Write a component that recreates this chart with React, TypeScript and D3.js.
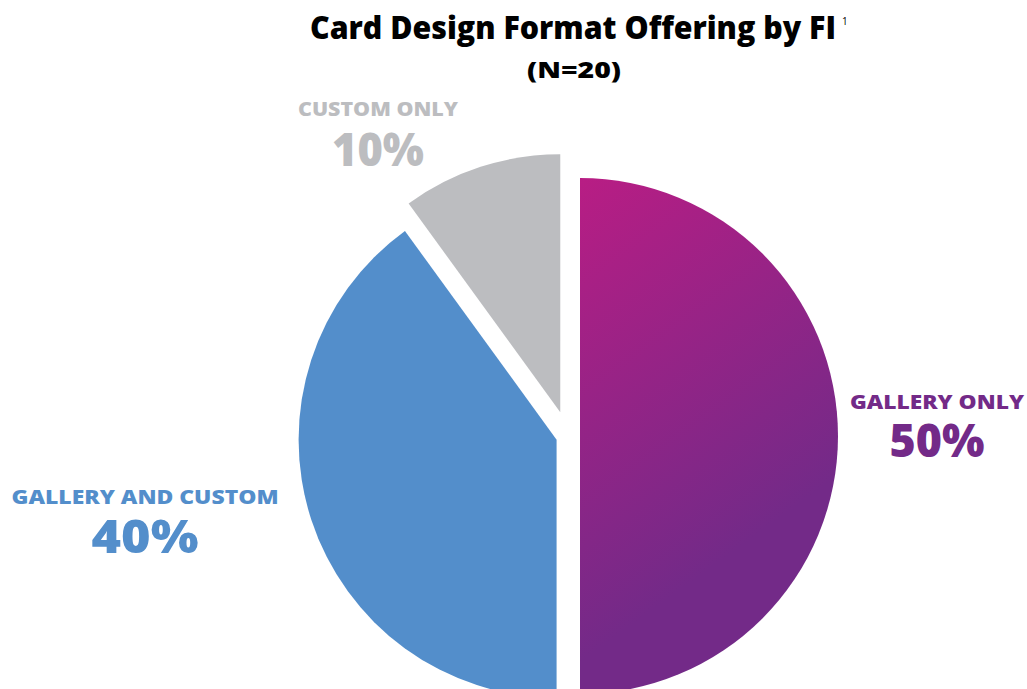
import { useEffect, useRef } from 'react';
import * as d3 from 'd3';

const categories = ['GALLERY ONLY', 'GALLERY AND CUSTOM', 'CUSTOM ONLY'];
const shares = [50, 40, 10];
const colors = ['url(#purpleGrad)', '#538ecb', '#bcbdc0'];
const labelColors = ['#732a88', '#538ecb', '#bcbdc0'];
// how far each slice is pulled out of the pie
const explode = [12, 12, 25];
// label layout: centre x, name baseline, percent baseline, name width, percent width
const labelLayout = [
  { x: 937, y: 409, y2: 457, w: 174, w2: 95 },
  { x: 145, y: 504, y2: 553, w: 267, w2: 107 },
  { x: 378, y: 116, y2: 166, w: 160, w2: 92 },
];

const W = 1027;
const H = 689;
const FONT = '"Open Sans", Lato, sans-serif';

export default function App() {
  const ref = useRef<SVGSVGElement>(null);

  useEffect(() => {
    if (!ref.current) return;
    const svg = d3.select(ref.current);
    svg.selectAll('*').remove();

    const defs = svg.append('defs');
    const grad = defs
      .append('linearGradient')
      .attr('id', 'purpleGrad')
      .attr('gradientUnits', 'userSpaceOnUse')
      .attr('x1', 0)
      .attr('y1', -258)
      .attr('x2', 230)
      .attr('y2', 60);
    grad.append('stop').attr('offset', '0%').attr('stop-color', '#b81d84');
    grad.append('stop').attr('offset', '100%').attr('stop-color', '#732a88');

    svg
      .append('text')
      .attr('x', 310)
      .attr('y', 39)
      .attr('textLength', 526)
      .attr('lengthAdjust', 'spacingAndGlyphs')
      .style('font-family', FONT)
      .style('font-weight', 800)
      .style('font-size', '32px')
      .style('fill', '#000')
      .text('Card Design Format Offering by FI');

    svg
      .append('text')
      .attr('x', 842)
      .attr('y', 25)
      .style('font-family', FONT)
      .style('font-size', '10px')
      .style('fill', '#000')
      .text('1');

    svg
      .append('text')
      .attr('x', 527)
      .attr('y', 78)
      .attr('textLength', 94)
      .attr('lengthAdjust', 'spacingAndGlyphs')
      .style('font-family', FONT)
      .style('font-weight', 800)
      .style('font-size', '22px')
      .style('fill', '#000')
      .text('(N=20)');

    const radius = 258;
    const cx = 568;
    const cy = 436;

    const arcs = d3.pie<number>().sort(null)(shares);
    const arc = d3.arc<d3.PieArcDatum<number>>().innerRadius(0).outerRadius(radius);

    const g = svg.append('g').attr('transform', `translate(${cx},${cy})`);
    g.selectAll('path')
      .data(arcs)
      .join('path')
      .attr('transform', (d, i) => {
        const mid = (d.startAngle + d.endAngle) / 2;
        return `translate(${Math.sin(mid) * explode[i]},${-Math.cos(mid) * explode[i]})`;
      })
      .attr('d', arc)
      .attr('fill', (_, i) => colors[i]);

    const labels = svg
      .selectAll('g.label')
      .data(categories)
      .join('g')
      .attr('class', 'label')
      .style('font-family', FONT)
      .style('font-weight', 800)
      .style('fill', (_, i) => labelColors[i]);

    labels
      .append('text')
      .attr('x', (_, i) => labelLayout[i].x - labelLayout[i].w / 2)
      .attr('y', (_, i) => labelLayout[i].y)
      .attr('textLength', (_, i) => labelLayout[i].w)
      .attr('lengthAdjust', 'spacingAndGlyphs')
      .style('font-size', '19px')
      .text(d => d);

    labels
      .append('text')
      .attr('x', (_, i) => labelLayout[i].x - labelLayout[i].w2 / 2)
      .attr('y', (_, i) => labelLayout[i].y2)
      .attr('textLength', (_, i) => labelLayout[i].w2)
      .attr('lengthAdjust', 'spacingAndGlyphs')
      .style('font-size', '46px')
      .text((_, i) => `${shares[i]}%`);
  }, []);

  return (
    <svg
      ref={ref}
      width={W}
      height={H}
      style={{ position: 'absolute', left: 0, top: 0, background: '#fff' }}
    />
  );
}
